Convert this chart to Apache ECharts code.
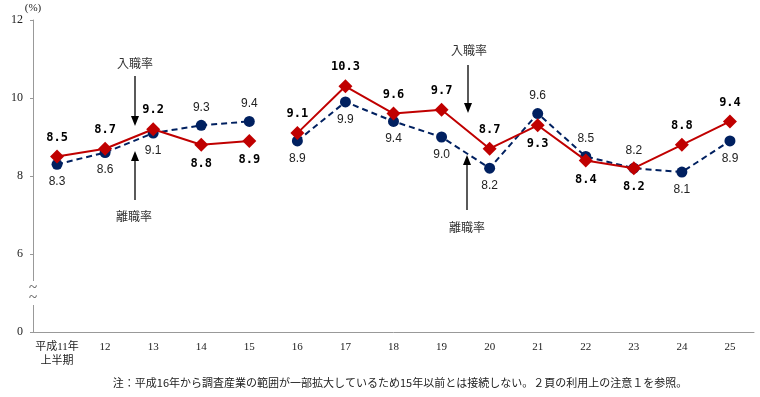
<!DOCTYPE html>
<html>
<head>
<meta charset="utf-8">
<script src="https://cdn.jsdelivr.net/npm/echarts@6/dist/echarts.min.js"></script>
<style>
  html, body { margin: 0; padding: 0; background: #fff; }
  #main { width: 760px; height: 397px; }
</style>
</head>
<body>
<div id="main"></div>
<script>
// categories (year)
const years = ['平成11年\n上半期', '12', '13', '14', '15', '16', '17', '18', '19', '20', '21', '22', '23', '24', '25']
// 入職率
const hireRate = [8.5, 8.7, 9.2, 8.8, 8.9, 9.1, 10.3, 9.6, 9.7, 8.7, 9.3, 8.4, 8.2, 8.8, 9.4]
// 離職率
const leaveRate = [8.3, 8.6, 9.1, 9.3, 9.4, 8.9, 9.9, 9.4, 9.0, 8.2, 9.6, 8.5, 8.2, 8.1, 8.9]
// label side for each point
const hirePos = ['top', 'top', 'top', 'bottom', 'bottom', 'top', 'top', 'top', 'top', 'top', 'bottom', 'bottom', 'bottom', 'top', 'top']
const leavePos = ['bottom', 'bottom', 'bottom', 'top', 'top', 'bottom', 'bottom', 'bottom', 'bottom', 'bottom', 'top', 'top', 'top', 'bottom', 'bottom']
// y ticks (bottom one sits after the axis break)
const yTicks = { 4: '0', 6: '6', 8: '8', 10: '10', 12: '12' }
const breakAt = 5 // 15年 -> 16年 not connected

const note = '注：平成16年から調査産業の範囲が一部拡大しているため15年以前とは接続しない。２頁の利用上の注意１を参照。'

function seg(values, pos, from, to) {
    return values.map(function (v, i) {
        if (i < from || i >= to) return '-'
        return { value: v, label: { position: pos[i] } }
    })
}

const chart = echarts.init(document.getElementById('main'), null, { renderer: 'canvas' })

const serif = '"Liberation Serif", "Noto Sans CJK JP", serif'
const cjk = '"Noto Sans CJK JP", sans-serif'

const hireStyle = {
    type: 'line',
    symbol: 'diamond',
    symbolSize: 14,
    itemStyle: { color: '#c00000' },
    lineStyle: { color: '#c00000', width: 2 },
    label: {
        show: true,
        color: '#000',
        fontSize: 12,
        fontWeight: 'bold',
        fontFamily: '"DejaVu Sans Mono", monospace',
        distance: 6,
        formatter: function (p) { return p.value.toFixed(1) }
    },
    z: 3
}
const leaveStyle = {
    type: 'line',
    symbol: 'circle',
    symbolSize: 11,
    itemStyle: { color: '#002060' },
    lineStyle: { color: '#002060', width: 2, type: [6, 4] },
    label: {
        show: true,
        color: '#222',
        fontSize: 12,
        fontFamily: '"Liberation Sans", sans-serif',
        distance: 6,
        formatter: function (p) { return p.value.toFixed(1) }
    },
    z: 2
}

function arrow(x, y1, y2) {
    // y1 = tail, y2 = tip
    const dir = y2 > y1 ? 1 : -1
    return [
        { type: 'line', shape: { x1: x, y1: y1, x2: x, y2: y2 - dir * 8 }, style: { stroke: '#000', lineWidth: 1.3 } },
        { type: 'polygon', shape: { points: [[x - 4, y2 - dir * 10], [x + 4, y2 - dir * 10], [x, y2]] }, style: { fill: '#000' } }
    ]
}

const option = {
    animation: false,
    grid: { left: 33, right: 6, top: 20, bottom: 65 },
    xAxis: {
        type: 'category',
        data: years,
        boundaryGap: true,
        axisLine: { lineStyle: { color: '#999', width: 1 } },
        axisTick: { show: false },
        axisLabel: { interval: 0, color: '#222', fontSize: 11, fontFamily: serif, margin: 8, lineHeight: 14 }
    },
    yAxis: {
        type: 'value',
        min: 4,
        max: 12,
        interval: 2,
        name: '(%)',
        nameLocation: 'end',
        nameGap: 6,
        nameTextStyle: { color: '#222', fontSize: 11, fontFamily: serif, align: 'center' },
        splitLine: { show: false },
        axisLine: { show: true, lineStyle: { color: '#999', width: 1 } },
        axisTick: { show: true, inside: false, length: 3, lineStyle: { color: '#999' } },
        axisLabel: {
            color: '#222', fontSize: 12, fontFamily: serif, margin: 10,
            formatter: function (v) { return yTicks[v] }
        }
    },
    graphic: [
        // axis break
        { type: 'rect', shape: { x: 29, y: 281, width: 8, height: 24 }, style: { fill: '#fff' }, z: 10 },
        { type: 'text', x: 33, y: 288, z: 11, style: { text: '~', fill: '#444', font: '15px "Liberation Serif"', align: 'center', verticalAlign: 'middle' } },
        { type: 'text', x: 33, y: 298, z: 11, style: { text: '~', fill: '#444', font: '15px "Liberation Serif"', align: 'center', verticalAlign: 'middle' } },
        // annotations
        { type: 'text', x: 135, y: 63, style: { text: '入職率', fill: '#333', font: '12px ' + cjk, align: 'center', verticalAlign: 'middle' } },
        { type: 'text', x: 134, y: 216, style: { text: '離職率', fill: '#333', font: '12px ' + cjk, align: 'center', verticalAlign: 'middle' } },
        { type: 'text', x: 469, y: 50, style: { text: '入職率', fill: '#333', font: '12px ' + cjk, align: 'center', verticalAlign: 'middle' } },
        { type: 'text', x: 467, y: 227, style: { text: '離職率', fill: '#333', font: '12px ' + cjk, align: 'center', verticalAlign: 'middle' } },
        ...arrow(135, 76, 126),
        ...arrow(135, 200, 151),
        ...arrow(468, 65, 113),
        ...arrow(467, 210, 155),
        // note
        { type: 'text', x: 400, y: 383, style: { text: note, fill: '#222', font: '11px ' + cjk, align: 'center', verticalAlign: 'middle' } }
    ],
    series: [
        Object.assign({ name: '離職率', data: seg(leaveRate, leavePos, 0, breakAt) }, leaveStyle),
        Object.assign({ name: '離職率', data: seg(leaveRate, leavePos, breakAt, years.length) }, leaveStyle),
        Object.assign({ name: '入職率', data: seg(hireRate, hirePos, 0, breakAt) }, hireStyle),
        Object.assign({ name: '入職率', data: seg(hireRate, hirePos, breakAt, years.length) }, hireStyle)
    ]
}

chart.setOption(option)
</script>
</body>
</html>
